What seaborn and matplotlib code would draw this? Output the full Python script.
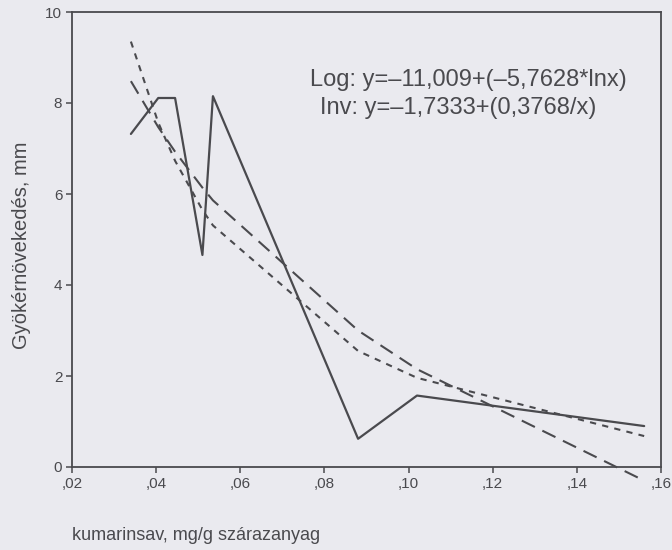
import matplotlib
matplotlib.use("Agg")
import matplotlib.pyplot as plt
import seaborn as sns
import pandas as pd

# Data
conc = [0.034, 0.0405, 0.0445, 0.051, 0.0535, 0.088, 0.102, 0.156]
growth = [7.32, 8.11, 8.11, 4.66, 8.15, 0.62, 1.57, 0.90]
log_fit = [8.48, 7.47, 6.93, 6.14, 5.86, 3.00, 2.15, -0.30]
inv_fit = [9.35, 7.57, 6.73, 5.65, 5.31, 2.55, 1.96, 0.68]
x_ticks = [0.02, 0.04, 0.06, 0.08, 0.10, 0.12, 0.14, 0.16]
x_tick_labels = [",02", ",04", ",06", ",08", ",10", ",12", ",14", ",16"]
y_ticks = [0, 2, 4, 6, 8, 10]
y_tick_labels = ["0", "2", "4", "6", "8", "10"]
legend_lines = ["Log: y=\u201311,009+(\u20135,7628*lnx)", "Inv: y=\u20131,7333+(0,3768/x)"]
x_label = "kumarinsav, mg/g sz\u00e1razanyag"
y_label = "Gy\u00f6k\u00e9rn\u00f6veked\u00e9s, mm"

df = pd.DataFrame({"x": conc, "obs": growth, "log": log_fit, "inv": inv_fit})

sns.set_theme(style="ticks")
plt.rcParams["font.family"] = ["Liberation Sans", "DejaVu Sans"]

bg = "#eaeaef"
ink = "#4a4a4e"

fig = plt.figure(figsize=(6.72, 5.5), dpi=100, facecolor=bg)
ax = fig.add_axes([72 / 672, 1 - 467 / 550, (661 - 72) / 672, (467 - 12) / 550])
ax.set_facecolor(bg)

sns.lineplot(data=df, x="x", y="obs", ax=ax, color=ink, lw=1.6, sort=False,
             estimator=None, clip_on=False)
sns.lineplot(data=df, x="x", y="log", ax=ax, color=ink, lw=1.5, sort=False,
             estimator=None, clip_on=False, dashes=False)
sns.lineplot(data=df, x="x", y="inv", ax=ax, color=ink, lw=1.5, sort=False,
             estimator=None, clip_on=False, dashes=False)
lines = ax.get_lines()
lines[1].set_dashes([7, 4])
lines[2].set_dashes([3, 3])

ax.set_xlim(0.02, 0.16)
ax.set_ylim(0, 10)
ax.set_xticks(x_ticks)
ax.set_xticklabels(x_tick_labels)
ax.set_yticks(y_ticks)
ax.set_yticklabels(y_tick_labels)
ax.tick_params(direction="out", length=4, width=1.1, color=ink, labelcolor=ink,
               labelsize=11, pad=3)
for s in ax.spines.values():
    s.set_visible(True)
    s.set_color(ink)
    s.set_linewidth(1.3)
ax.set_xlabel("")
ax.set_ylabel("")

fig.text(22 / 672, 1 - 245 / 550, y_label, rotation=90, ha="center", va="center",
         fontsize=14.5, color=ink)
fig.text(72 / 672, 1 - 536 / 550, x_label, ha="left", va="center",
         fontsize=13, color=ink)
fig.text(310 / 672, 1 - 80 / 550, legend_lines[0], ha="left", va="center",
         fontsize=17, color=ink)
fig.text(320 / 672, 1 - 108 / 550, legend_lines[1], ha="left", va="center",
         fontsize=17, color=ink)

fig.savefig("out.png", dpi=100, facecolor=bg)
